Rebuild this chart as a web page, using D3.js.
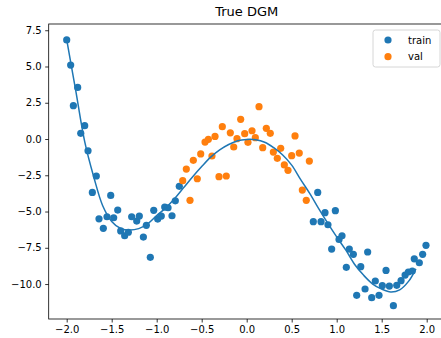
<!DOCTYPE html>
<html>
<head>
<meta charset="utf-8">
<script src="https://cdn.jsdelivr.net/npm/d3@7"></script>
<style>
  body { margin: 0; background: #fff; }
  svg { font-family: "DejaVu Sans", sans-serif; }
</style>
</head>
<body>
<div id="chart"></div>
<script>
// training points (x, y)
var trainX = [-2.0, -1.956, -1.878, -1.926, -1.80, -1.844, -1.763, -1.671, -1.715, -1.511,
  -1.641, -1.552, -1.478, -1.593, -1.433, -1.40, -1.356, -1.315, -1.278, -1.222,
  -1.193, -1.148, -1.115, -1.071, -1.033, -0.989, -0.949, -0.911, -0.874, -0.83,
  -0.793, -0.749,
  0.789, 0.870, 0.985, 0.74, 0.826, 0.903, 1.026, 1.059, 0.944, 1.14,
  1.185, 1.344, 1.107, 1.267, 1.548, 1.429, 1.507, 1.585, 1.667, 1.315,
  1.222, 1.389, 1.47, 1.63, 1.715, 1.76, 1.796, 1.84, 1.862, 1.918,
  1.955, 1.992]
var trainY = [6.83, 5.10, 3.56, 2.30, 0.92, 0.39, -0.81, -2.55, -3.68, -3.89,
  -5.50, -5.36, -5.43, -6.16, -4.90, -6.34, -6.67, -6.43, -5.36, -5.66,
  -5.31, -6.76, -5.95, -8.16, -4.92, -5.52, -5.31, -4.69, -4.74, -5.29,
  -4.26, -3.26,
  -3.68, -5.08, -4.94, -5.70, -5.70, -5.91, -6.92, -6.67, -7.59, -7.59,
  -7.95, -7.79, -8.85, -8.80, -9.06, -9.79, -10.11, -10.14, -10.09, -10.34,
  -10.78, -10.94, -10.78, -11.49, -9.77, -9.38, -9.17, -9.10, -8.26, -8.53,
  -7.95, -7.33]

// validation points
var valX = [0.137, -0.067, -0.271, -0.182, -0.352, -0.426, -0.463, -0.511, -0.593, -0.671,
  -0.711, -0.549, -0.63, -0.386, -0.308, -0.227, -0.144, -0.108, -0.022, 0.059,
  0.014, 0.096, 0.178, 0.218, 0.262, 0.296, 0.378, 0.34, 0.537, 0.418,
  0.459, 0.5, 0.584, 0.696, 0.618, 0.662]
var valY = [2.23, 1.36, 0.85, 0.43, 0.18, -0.02, -0.21, -1.03, -1.47, -2.07,
  -2.87, -2.74, -4.23, -1.17, -2.6, -2.55, -0.55, 0.02, 0.37, 0.57,
  -0.23, 0.09, -0.6, 0.74, 0.39, -0.9, -0.64, -1.33, 0.21, -1.79,
  -2.16, -1.15, -0.97, -1.52, -3.52, -4.23]

// true curve
var curveX = [-2.0, -1.9, -1.8, -1.7, -1.6, -1.5, -1.4, -1.3, -1.2, -1.1,
  -1.0, -0.9, -0.8, -0.7, -0.6, -0.5, -0.4, -0.3, -0.2, -0.1,
  0.0, 0.1, 0.2, 0.3, 0.4, 0.5, 0.6, 0.7, 0.8, 0.9,
  1.0, 1.1, 1.2, 1.3, 1.4, 1.5, 1.6, 1.7, 1.8, 1.88]
var curveY = [6.85, 3.35, -0.18, -2.6, -4.6, -5.68, -6.17, -6.28, -6.18, -5.85,
  -5.28, -4.75, -4.1, -3.35, -2.6, -1.9, -1.25, -0.75, -0.38, -0.12,
  -0.03, -0.05, -0.22, -0.6, -1.1, -1.8, -2.8, -3.75, -4.8, -5.8,
  -6.75, -7.65, -8.65, -9.4, -10.0, -10.35, -10.55, -10.4, -9.8, -8.95]

var xTicks = [-2.0, -1.5, -1.0, -0.5, 0.0, 0.5, 1.0, 1.5, 2.0]
var yTicks = [7.5, 5.0, 2.5, 0.0, -2.5, -5.0, -7.5, -10.0]

var width = 441, height = 338
var blue = '#1f77b4', orange = '#ff7f0e'

var svg = d3.select('#chart').append('svg')
  .attr('width', width)
  .attr('height', height)

var x = d3.scaleLinear().domain([-2.2, 2.2]).range([48.7, 444.7])
var y = d3.scaleLinear().domain([-12.41, 7.93]).range([319, 24])

var fmt = d3.format('.1f')

// axes
var xAxis = svg.append('g')
  .attr('transform', 'translate(0,319)')
  .call(d3.axisBottom(x).tickValues(xTicks).tickFormat(fmt).tickSize(3.5).tickPadding(3.5).tickSizeOuter(0))
var yAxis = svg.append('g')
  .attr('transform', 'translate(48.7,0)')
  .call(d3.axisLeft(y).tickValues(yTicks).tickFormat(fmt).tickSize(3.5).tickPadding(3.5).tickSizeOuter(0))

svg.selectAll('.domain').remove()
svg.selectAll('.tick line').attr('stroke', '#000').attr('stroke-width', 0.8)
svg.selectAll('.tick text').attr('font-size', 10).attr('fill', '#000')
  .attr('font-family', '"DejaVu Sans", sans-serif')

// frame
svg.append('rect')
  .attr('x', 48.7).attr('y', 24)
  .attr('width', 444.7 - 48.7).attr('height', 319 - 24)
  .attr('fill', 'none').attr('stroke', '#000').attr('stroke-width', 0.8)

// scatter
svg.append('g').selectAll('circle')
  .data(d3.range(trainX.length))
  .enter().append('circle')
  .attr('cx', function (i) { return x(trainX[i]) })
  .attr('cy', function (i) { return y(trainY[i]) })
  .attr('r', 3.6)
  .attr('fill', blue)

svg.append('g').selectAll('circle')
  .data(d3.range(valX.length))
  .enter().append('circle')
  .attr('cx', function (i) { return x(valX[i]) })
  .attr('cy', function (i) { return y(valY[i]) })
  .attr('r', 3.6)
  .attr('fill', orange)

// curve
var line = d3.line()
  .x(function (i) { return x(curveX[i]) })
  .y(function (i) { return y(curveY[i]) })
  .curve(d3.curveCatmullRom)

svg.append('path')
  .datum(d3.range(curveX.length))
  .attr('d', line)
  .attr('fill', 'none')
  .attr('stroke', blue)
  .attr('stroke-width', 1.5)

// title
svg.append('text')
  .attr('x', 246.7).attr('y', 16)
  .attr('text-anchor', 'middle')
  .attr('font-size', 13)
  .text('True DGM')

// legend
var legend = svg.append('g')
legend.append('rect')
  .attr('x', 373).attr('y', 30)
  .attr('width', 67).attr('height', 37)
  .attr('rx', 2.5)
  .attr('fill', '#fff').attr('fill-opacity', 0.8)
  .attr('stroke', '#ccc').attr('stroke-width', 0.8)

var items = [['train', blue], ['val', orange]]
items.forEach(function (d, i) {
  legend.append('circle')
    .attr('cx', 388).attr('cy', 40 + i * 16.7)
    .attr('r', 3.6).attr('fill', d[1])
  legend.append('text')
    .attr('x', 408).attr('y', 40 + i * 16.7 + 3.6)
    .attr('font-size', 10)
    .text(d[0])
})
</script>
</body>
</html>
